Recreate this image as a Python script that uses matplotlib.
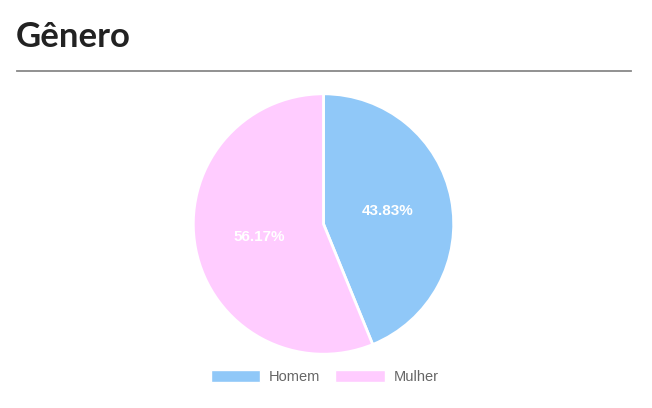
import matplotlib
matplotlib.use("Agg")
import matplotlib.pyplot as plt
from matplotlib.lines import Line2D

title = "Gênero"
categories = ["Homem", "Mulher"]
values = [43.83, 56.17]
colors = ["#90c8f8", "#ffccff"]

W, H = 652, 408
fig = plt.figure(figsize=(W / 100, H / 100), dpi=100)
fig.patch.set_facecolor("white")

# title and rule
fig.text(16 / W, 1 - 47 / H, title, fontsize=25, fontweight="bold",
         family=["Lato", "DejaVu Sans"], color="#222222", va="baseline", ha="left")
fig.add_artist(Line2D([16.5 / W, 631 / W], [1 - 70.5 / H, 1 - 70.5 / H],
                      transform=fig.transFigure, color="#888888", lw=1.3))

r = 131.5
cx, cy = 323.5, 224
ax = fig.add_axes([(cx - r) / W, (H - cy - r) / H, 2 * r / W, 2 * r / H])
wedges, texts = ax.pie(values, colors=colors, startangle=90, counterclock=False,
                       radius=1, labels=[f"{v:.2f}%" for v in values],
                       labeldistance=0.5,
                       wedgeprops=dict(edgecolor="white", linewidth=2),
                       textprops=dict(color="white", fontsize=11, fontweight="bold",
                                      family=["Liberation Sans", "DejaVu Sans"],
                                      ha="center", va="center"))
ax.set_xlim(-1.01, 1.01)
ax.set_ylim(-1.01, 1.01)
ax.set_aspect("equal")
ax.axis("off")

leg = fig.legend(wedges, categories, loc="center", bbox_to_anchor=(324.5 / W, 1 - 377 / H),
                 ncol=2, frameon=False, handlelength=3.4, handleheight=0.95,
                 handletextpad=0.6, columnspacing=1.0,
                 prop=dict(family=["Liberation Sans", "DejaVu Sans"], size=10.5))
for t in leg.get_texts():
    t.set_color("#666666")
for h in leg.legend_handles:
    h.set_edgecolor("white")
    h.set_linewidth(1)

fig.savefig("out.png", dpi=100, facecolor="white")
